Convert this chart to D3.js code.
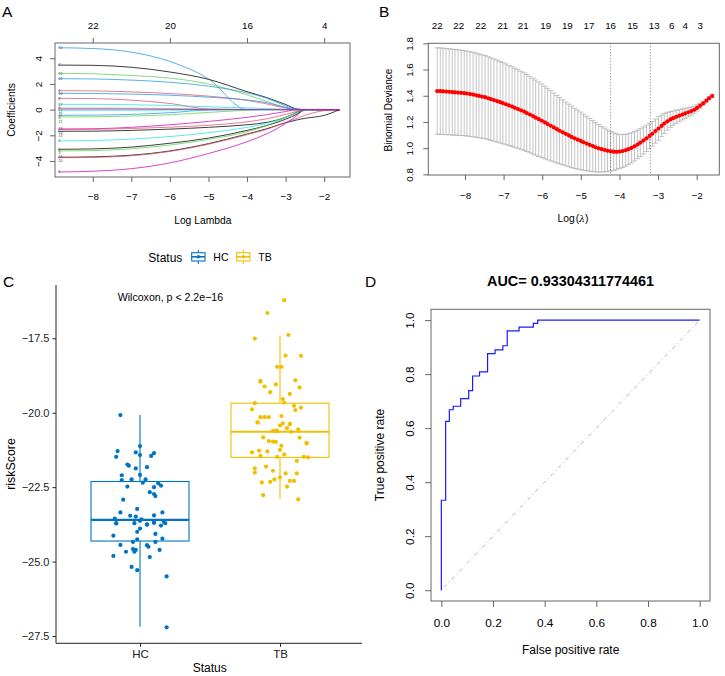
<!DOCTYPE html>
<html><head><meta charset="utf-8">
<script src="https://cdn.jsdelivr.net/npm/d3@7"></script>
<style>
body{margin:0;background:#fff;}
svg{display:block;font-family:"Liberation Sans",Arial,Helvetica,sans-serif;}
</style></head><body>
<svg id="chart" width="725" height="676"></svg>
<script>
// ---------------- DATA ----------------
// Panel A: LASSO coefficient paths
const lassoLogLambda = [-8.9, -8, -7, -6, -5, -4, -3.5, -3, -2.7, -2.5, -2, -1.6];
const coefVars = [10, 7, 15, 22, 2, 16, 8, 17, 9, 11, 4, 21, 18, 14, 13, 5, 1, 3, 19, 20, 6, 12];
const coefPaths = [
  [4.82, 4.76, 4.48, 3.75, 2.4, 0, 0, 0, 0, 0, 0, 0],
  [3.47, 3.45, 3.3, 2.93, 2.36, 1.4, 0.95, 0.4, 0.05, 0, 0, 0],
  [2.82, 2.79, 2.66, 2.45, 2.0, 1.15, 0.65, 0.15, 0, 0, 0, 0],
  [2.41, 2.39, 2.3, 2.13, 1.83, 1.3, 0.9, 0.3, 0.03, 0, 0, 0],
  [1.48, 1.46, 1.38, 1.25, 1.05, 0.72, 0.45, 0.12, 0, 0, 0, 0],
  [1.27, 1.26, 1.21, 1.12, 0.97, 0.75, 0.55, 0.18, 0.02, 0, 0, 0],
  [0.88, 0.86, 0.74, 0.48, 0.05, 0, 0, 0, 0, 0, 0, 0],
  [0.41, 0.41, 0.38, 0.32, 0.22, 0.13, 0.08, 0.02, 0, 0, 0, 0],
  [0.12, 0.12, 0.11, 0.09, 0.05, 0.02, 0.01, 0, 0, 0, 0, 0],
  [-0.05, -0.05, -0.05, -0.04, -0.02, 0, 0, 0, 0, 0, 0, 0],
  [-0.44, -0.43, -0.37, -0.24, -0.03, 0, 0, 0, 0, 0, 0, 0],
  [-0.57, -0.56, -0.5, -0.4, -0.22, -0.05, 0, 0, 0, 0, 0, 0],
  [-1.51, -1.49, -1.38, -1.18, -0.92, -0.6, -0.4, -0.15, 0, 0, 0, 0],
  [-1.56, -1.54, -1.47, -1.37, -1.22, -0.95, -0.72, -0.38, -0.12, 0, 0, 0],
  [-1.69, -1.68, -1.62, -1.52, -1.38, -1.18, -1.0, -0.6, -0.2, 0, 0, 0],
  [-2.44, -2.41, -2.3, -2.1, -1.8, -1.38, -1.08, -0.6, -0.28, -0.08, 0, 0],
  [-3.09, -3.06, -2.92, -2.62, -2.22, -1.62, -1.25, -0.75, -0.35, 0, 0, 0],
  [-3.22, -3.19, -3.05, -2.76, -2.32, -1.72, -1.25, -0.62, -0.22, 0, 0, 0],
  [-3.71, -3.68, -3.55, -3.22, -2.65, -1.9, -1.5, -1.02, -0.8, -0.68, -0.45, 0],
  [-3.75, -3.72, -3.6, -3.26, -2.7, -1.95, -1.55, -1.0, -0.68, -0.45, -0.08, 0],
  [-4.86, -4.8, -4.6, -4.15, -3.42, -2.5, -1.9, -1.08, -0.45, 0, 0, 0],
  [0.05, 0.05, 0.04, 0.02, 0, 0, 0, 0, 0, 0, 0, 0]
];
const aBottomTicks = [-8, -7, -6, -5, -4, -3, -2];
const aLeftTicks = [-4, -2, 0, 2, 4];
const aTopTicks = [-8, -6, -4, -2];
const aTopLabels = ["22", "20", "16", "4"];

// Panel B: cross-validation curve
const cvLogLambda = [-8.72,-8.64,-8.57,-8.49,-8.41,-8.33,-8.26,-8.18,-8.10,-8.02,
  -7.95,-7.87,-7.79,-7.71,-7.64,-7.56,-7.48,-7.40,-7.33,-7.25,
  -7.17,-7.09,-7.02,-6.94,-6.86,-6.78,-6.71,-6.63,-6.55,-6.47,
  -6.40,-6.32,-6.24,-6.17,-6.09,-6.01,-5.93,-5.86,-5.78,-5.70,
  -5.62,-5.55,-5.47,-5.39,-5.31,-5.24,-5.16,-5.08,-5.00,-4.93,
  -4.85,-4.77,-4.69,-4.62,-4.54,-4.46,-4.38,-4.31,-4.23,-4.15,
  -4.08,-4.00,-3.92,-3.84,-3.77,-3.69,-3.61,-3.53,-3.46,-3.38,
  -3.30,-3.22,-3.15,-3.07,-2.99,-2.91,-2.84,-2.76,-2.68,-2.61,
  -2.53,-2.45,-2.37,-2.30,-2.22,-2.14,-2.06,-1.99,-1.91,-1.83,
  -1.75,-1.68,-1.60];
const cvMean = [1.436,1.435,1.434,1.432,1.430,1.428,1.426,1.424,1.422,1.420,
  1.417,1.413,1.409,1.404,1.399,1.394,1.389,1.381,1.374,1.367,
  1.359,1.351,1.344,1.335,1.326,1.317,1.308,1.299,1.289,1.279,
  1.268,1.257,1.245,1.233,1.221,1.209,1.196,1.184,1.171,1.158,
  1.145,1.133,1.121,1.109,1.097,1.086,1.075,1.065,1.055,1.045,
  1.035,1.025,1.016,1.007,0.999,0.992,0.986,0.980,0.976,0.973,
  0.972,0.974,0.978,0.984,0.992,1.002,1.014,1.028,1.042,1.058,
  1.075,1.093,1.110,1.130,1.150,1.170,1.188,1.205,1.219,1.229,
  1.239,1.248,1.257,1.265,1.274,1.283,1.293,1.307,1.324,1.342,
  1.362,1.381,1.398];
const cvSE = [.330,.330,.329,.329,.328,.328,.327,.326,.326,.325,
  .324,.323,.322,.321,.320,.318,.317,.316,.315,.314,
  .313,.311,.310,.308,.306,.304,.302,.300,.298,.296,
  .294,.292,.289,.287,.284,.281,.277,.273,.268,.263,
  .258,.253,.248,.243,.239,.235,.230,.225,.220,.214,
  .208,.201,.194,.188,.181,.174,.167,.159,.150,.144,
  .137,.130,.126,.122,.118,.115,.112,.109,.106,.103,
  .100,.097,.094,.092,.090,.083,.076,.068,.060,.054,
  .050,.046,.042,.039,.035,.031,.027,.024,.020,.017,
  .014,.012,.010];
const lambdaMin = -4.23;
const lambda1se = -3.2;
const bTopPos = [-8.72, -8.16, -7.59, -7.02, -6.49, -5.91, -5.35, -4.79, -4.23, -3.66, -3.10, -2.65, -2.30, -1.91];
const bTopLabels = ["22","22","22","21","21","19","19","17","16","15","13","6","4","3"];
const bBottomTicks = [-8, -7, -6, -5, -4, -3, -2];
const bLeftTicks = [0.8, 1.0, 1.2, 1.4, 1.6, 1.8];

// Panel C: risk score by status
const groups = ["HC", "TB"];
const hcScore = [-20.08,-21.12,-21.29,-21.48,-21.33,-21.42,-21.36,-21.45,-21.74,-21.78,
  -21.87,-21.83,-22.10,-22.26,-22.24,-22.09,-22.24,-22.35,-22.48,-22.37,
  -22.45,-22.50,-22.67,-22.73,-22.80,-22.92,-23.23,-23.35,-23.35,-23.46,
  -23.45,-23.56,-23.71,-23.49,-23.71,-23.63,-23.58,-23.75,-23.69,-23.79,
  -23.66,-23.71,-24.00,-23.89,-24.13,-24.07,-24.25,-24.34,-24.23,-24.44,
  -24.45,-24.50,-24.34,-24.67,-24.58,-24.67,-24.61,-24.61,-24.81,-24.85,
  -25.18,-25.29,-25.50,-27.21,-23.72,-23.70,-23.76];
const hcJitter = [-0.14,0.00,-0.16,-0.17,-0.03,0.00,0.10,0.08,-0.09,-0.08,
  -0.03,0.05,-0.13,-0.13,-0.06,0.00,0.04,0.02,-0.09,0.13,
  0.15,0.10,0.07,0.10,0.11,-0.12,-0.02,0.16,-0.14,-0.07,
  0.10,-0.18,-0.17,-0.03,-0.04,0.00,0.01,0.05,0.10,0.15,
  0.17,0.18,-0.02,0.00,-0.19,0.11,-0.02,-0.05,0.16,-0.14,
  0.05,0.06,0.11,-0.10,-0.05,-0.04,-0.03,0.14,-0.19,0.07,
  -0.06,-0.02,0.19,0.19,-0.17,0.10,0.05];
const tbScore = [-16.22,-16.65,-17.39,-17.51,-18.08,-18.09,-18.46,-18.46,-18.93,-18.96,
  -18.91,-19.05,-19.12,-19.15,-19.31,-19.37,-19.54,-19.66,-19.68,-19.77,
  -19.83,-19.91,-19.89,-20.11,-20.15,-20.15,-20.15,-20.33,-20.37,-20.36,
  -20.43,-20.52,-20.56,-20.61,-20.60,-20.64,-20.83,-20.84,-20.95,-20.97,
  -20.98,-21.01,-21.11,-21.25,-21.33,-21.27,-21.30,-21.40,-21.48,-21.48,
  -21.50,-21.45,-21.62,-21.81,-21.87,-22.01,-21.95,-22.04,-22.04,-22.24,
  -22.17,-22.32,-22.34,-22.29,-22.29,-22.48,-22.77,-22.91,-20.32,-20.39,
  -20.62,-21.03];
const tbJitter = [0.03,-0.09,0.06,-0.18,0.04,0.15,-0.02,0.01,-0.14,-0.14,
  0.11,-0.03,-0.11,0.14,-0.07,0.07,0.02,0.03,-0.18,0.10,
  0.15,0.11,-0.20,0.01,-0.14,-0.11,-0.08,-0.16,0.07,0.02,
  0.00,0.05,0.13,-0.05,-0.03,0.08,-0.12,0.14,-0.08,-0.05,
  -0.03,0.19,0.01,0.00,-0.20,-0.15,-0.09,0.03,-0.02,0.17,
  0.20,-0.14,0.12,-0.10,-0.18,-0.18,-0.05,0.12,0.04,-0.04,
  0.00,-0.07,-0.13,0.07,0.10,0.05,-0.12,0.13,-0.16,0.07,
  -0.02,0.19];
const boxQ1 = [-24.31, -21.50];
const boxMedian = [-23.60, -20.64];
const boxQ3 = [-22.31, -19.68];
const boxLow = [-27.19, -22.91];
const boxHigh = [-20.08, -17.41];
const cTicks = [-17.5, -20.0, -22.5, -25.0, -27.5];

// Panel D: ROC curve corners
const rocFPR = [0, 0, 0.0167, 0.031, 0.046, 0.075, 0.106, 0.121, 0.148, 0.179, 0.208, 0.238, 0.255, 0.301, 0.356, 0.373, 1.0];
const rocTPR = [0, 0.333, 0.625, 0.668, 0.681, 0.709, 0.739, 0.793, 0.808, 0.876, 0.890, 0.905, 0.960, 0.974, 0.988, 1.0, 1.0];
const dTicks = [0, 0.2, 0.4, 0.6, 0.8, 1.0];
const aucText = "AUC= 0.93304311774461";

// ---------------- DRAWING ----------------
const svg = d3.select("#chart");
const FONT = '"Liberation Sans", Arial, Helvetica, sans-serif';
const rPalette = ["#000000", "#DF536B", "#61D04F", "#2297E6", "#28E2E5", "#CD0BBC"];
const jco = {HC: "#0073C2", TB: "#EFC000"};
const minus = s => String(s).replace("-", "\u2212");

function axisBottom(g, scale, vals, y0, len, baseY, fs, fmt, col) {
  const a = g.append("g").attr("transform", `translate(0,${y0})`)
    .call(d3.axisBottom(scale).tickValues(vals).tickSize(len).tickFormat(fmt));
  a.select(".domain").remove();
  a.selectAll("line").attr("stroke", col || "#333");
  a.selectAll("text").attr("y", baseY - y0).attr("dy", 0).attr("font-size", fs)
    .attr("font-family", FONT).attr("fill", "#000");
  return a;
}
function axisTop(g, scale, vals, labels, y0, len, baseY, fs, col) {
  const a = g.append("g").attr("transform", `translate(0,${y0})`)
    .call(d3.axisTop(scale).tickValues(vals).tickSize(len).tickFormat((d, i) => labels[i]));
  a.select(".domain").remove();
  a.selectAll("line").attr("stroke", col || "#333");
  a.selectAll("text").attr("y", baseY - y0).attr("dy", 0).attr("font-size", fs)
    .attr("font-family", FONT).attr("fill", "#000");
  return a;
}
function axisLeftRot(g, scale, vals, x0, len, baseX, fs, fmt, col) {
  const a = g.append("g").attr("transform", `translate(${x0},0)`)
    .call(d3.axisLeft(scale).tickValues(vals).tickSize(len).tickFormat(fmt));
  a.select(".domain").remove();
  a.selectAll("line").attr("stroke", col || "#333");
  a.selectAll("text").attr("x", 0).attr("dy", 0).attr("text-anchor", "middle")
    .attr("transform", `translate(${baseX - x0},0) rotate(-90)`)
    .attr("font-size", fs).attr("font-family", FONT).attr("fill", "#000");
  return a;
}
function rotLabel(g, txt, baseX, cy, fs) {
  g.append("text").attr("transform", `translate(${baseX},${cy}) rotate(-90)`)
    .attr("text-anchor", "middle").attr("font-size", fs).attr("font-family", FONT).text(txt);
}
function hLabel(g, txt, cx, baseY, fs, weight) {
  return g.append("text").attr("x", cx).attr("y", baseY).attr("text-anchor", "middle")
    .attr("font-size", fs).attr("font-family", FONT).attr("font-weight", weight || "normal").text(txt);
}
function panelLetter(txt, x, y) {
  svg.append("text").attr("x", x).attr("y", y).attr("font-size", 15.5)
    .attr("font-family", FONT).text(txt);
}

// ===== Panel A =====
{
  const g = svg.append("g");
  const x = d3.scaleLinear().domain([-8.98, -1.33]).range([55, 350]);
  const y = d3.scaleLinear().domain([-5.25, 5.19]).range([177, 43]);
  const line = d3.line().curve(d3.curveMonotoneX);
  coefPaths.forEach((vals, k) => {
    g.append("path")
      .attr("d", line(vals.map((v, i) => [x(lassoLogLambda[i]), y(v)])))
      .attr("fill", "none").attr("stroke", rPalette[(coefVars[k] - 1) % 6])
      .attr("stroke-width", 0.9).attr("stroke-opacity", 0.85);
  });
  // variable labels at the left end, nudged apart so they do not collide
  const lab = coefPaths.map((vals, k) => ({k, y: y(vals[0])})).sort((a, b) => a.y - b.y);
  const gap = 3.3;
  for (let i = 1; i < lab.length; i++) if (lab[i].y - lab[i - 1].y < gap) lab[i].y = lab[i - 1].y + gap;
  for (let i = lab.length - 2; i >= 0; i--) if (lab[i + 1].y - lab[i].y < gap) lab[i].y = lab[i + 1].y - gap;
  lab.forEach(l => {
    g.append("text").attr("x", x(lassoLogLambda[0]) + 0.5).attr("y", l.y)
      .attr("dy", "0.35em").attr("font-size", 3.6).attr("fill", "#444")
      .attr("font-family", FONT).text(coefVars[l.k]);
  });
  g.append("rect").attr("x", 55).attr("y", 43).attr("width", 295).attr("height", 134)
    .attr("fill", "none").attr("stroke", "#666").attr("stroke-width", 1);
  axisBottom(g, x, aBottomTicks, 177, 5, 200.3, 9.8, d => minus(d), "#666");
  axisTop(g, x, aTopTicks, aTopLabels, 43, 5, 28.6, 9.8, "#666");
  axisLeftRot(g, y, aLeftTicks, 55, 5, 41.8, 9.8, d => minus(d), "#666");
  rotLabel(g, "Coefficients", 15.3, 110, 10.3);
  hLabel(g, "Log Lambda", 202.8, 223.8, 10.3);
  panelLetter("A", 2, 17.3);
}

// ===== Panel B =====
{
  const g = svg.append("g");
  const x = d3.scaleLinear().domain([-8.95, -1.415]).range([428.3, 719.3]);
  const y = d3.scaleLinear().domain([0.795, 1.805]).range([175, 42.7]);
  const bw = 2.75;
  cvLogLambda.forEach((l, i) => {
    const up = cvMean[i] + cvSE[i], lo = cvMean[i] - cvSE[i];
    const xx = x(l);
    g.append("line").attr("x1", xx).attr("x2", xx).attr("y1", y(up)).attr("y2", y(lo))
      .attr("stroke", "#b4b4b4").attr("stroke-width", 0.8);
    g.append("line").attr("x1", xx - bw).attr("x2", xx + bw).attr("y1", y(up)).attr("y2", y(up))
      .attr("stroke", "#b4b4b4").attr("stroke-width", 0.8);
    g.append("line").attr("x1", xx - bw).attr("x2", xx + bw).attr("y1", y(lo)).attr("y2", y(lo))
      .attr("stroke", "#b4b4b4").attr("stroke-width", 0.8);
  });
  [lambdaMin, lambda1se].forEach(v => {
    g.append("line").attr("x1", x(v)).attr("x2", x(v)).attr("y1", 43.3).attr("y2", 175)
      .attr("stroke", "#555").attr("stroke-width", 0.8).attr("stroke-dasharray", "1,2");
  });
  cvLogLambda.forEach((l, i) => {
    g.append("circle").attr("cx", x(l)).attr("cy", y(cvMean[i])).attr("r", 2.1).attr("fill", "#ff0000");
  });
  g.append("rect").attr("x", 428.3).attr("y", 43.3).attr("width", 291).attr("height", 131.7)
    .attr("fill", "none").attr("stroke", "#666").attr("stroke-width", 1);
  axisBottom(g, x, bBottomTicks, 175, 5, 198.5, 9.8, d => minus(d), "#666");
  axisLeftRot(g, y, bLeftTicks, 428.3, 5, 412.8, 9.8, d => d3.format(".1f")(d), "#666");
  bTopPos.forEach((p, i) => {
    hLabel(g, bTopLabels[i], x(p), 28.6, 9.8);
  });
  rotLabel(g, "Binomial Deviance", 391.9, 110, 10);
  const t = g.append("text").attr("x", 573).attr("y", 221.6).attr("text-anchor", "middle")
    .attr("font-size", 10.3).attr("font-family", FONT);
  t.append("tspan").text("Log");
  t.append("tspan").attr("dx", 1).text("(");
  t.append("tspan").attr("font-style", "italic").attr("font-family", '"DejaVu Serif", serif').attr("font-size", 9.5).text("λ");
  t.append("tspan").text(")");
  panelLetter("B", 379, 16.7);
}

// ===== Panel C =====
{
  const g = svg.append("g");
  const y = d3.scaleLinear().domain([-27.745, -15.71]).range([643.3, 285]);
  const x = d3.scalePoint().domain(groups).range([140, 280]);
  const step = x.step();
  const halfW = 0.35 * step;
  // boxes
  groups.forEach((grp, i) => {
    const cx = x(grp), col = jco[grp];
    g.append("line").attr("x1", cx).attr("x2", cx).attr("y1", y(boxHigh[i])).attr("y2", y(boxQ3[i]))
      .attr("stroke", col).attr("stroke-width", 1.1);
    g.append("line").attr("x1", cx).attr("x2", cx).attr("y1", y(boxQ1[i])).attr("y2", y(boxLow[i]))
      .attr("stroke", col).attr("stroke-width", 1.1);
    g.append("rect").attr("x", cx - halfW).attr("y", y(boxQ3[i])).attr("width", 2 * halfW)
      .attr("height", y(boxQ1[i]) - y(boxQ3[i])).attr("fill", "#fff").attr("stroke", col).attr("stroke-width", 1.1);
    g.append("line").attr("x1", cx - halfW).attr("x2", cx + halfW).attr("y1", y(boxMedian[i])).attr("y2", y(boxMedian[i]))
      .attr("stroke", col).attr("stroke-width", 2.2);
  });
  // points
  hcScore.forEach((v, i) => {
    g.append("circle").attr("cx", x("HC") + hcJitter[i] * step).attr("cy", y(v)).attr("r", 2.1).attr("fill", jco.HC);
  });
  tbScore.forEach((v, i) => {
    g.append("circle").attr("cx", x("TB") + tbJitter[i] * step).attr("cy", y(v)).attr("r", 2.1).attr("fill", jco.TB);
  });
  // axes
  g.append("line").attr("x1", 56).attr("x2", 56).attr("y1", 285).attr("y2", 643.3).attr("stroke", "#222").attr("stroke-width", 1);
  g.append("line").attr("x1", 56).attr("x2", 362).attr("y1", 643.3).attr("y2", 643.3).attr("stroke", "#222").attr("stroke-width", 1);
  const ya = g.append("g").attr("transform", "translate(56,0)")
    .call(d3.axisLeft(y).tickValues(cTicks).tickSize(3.5).tickPadding(3).tickFormat(d => minus(d3.format(".1f")(d))));
  ya.select(".domain").remove();
  ya.selectAll("line").attr("stroke", "#222");
  ya.selectAll("text").attr("font-size", 11).attr("font-family", FONT).attr("fill", "#222");
  const xa = g.append("g").attr("transform", "translate(0,643.3)")
    .call(d3.axisBottom(x).tickSize(3.5).tickPadding(3));
  xa.select(".domain").remove();
  xa.selectAll("line").attr("stroke", "#222");
  xa.selectAll("text").attr("font-size", 11.5).attr("font-family", FONT).attr("fill", "#222");
  rotLabel(g, "riskScore", 14.5, 464, 12.4);
  hLabel(g, "Status", 209.7, 672.3, 12);
  g.append("text").attr("x", 117.7).attr("y", 300.8).attr("font-size", 10.6).attr("font-family", FONT)
    .text("Wilcoxon, p < 2.2e\u221216");
  // legend
  g.append("text").attr("x", 148.3).attr("y", 261.5).attr("font-size", 12).attr("font-family", FONT).text("Status");
  const keyX = {HC: 191.7, TB: 236.7};
  groups.forEach(grp => {
    const kx = keyX[grp], col = jco[grp], kw = 13.3, cx = kx + kw / 2;
    g.append("line").attr("x1", cx).attr("x2", cx).attr("y1", 250).attr("y2", 264).attr("stroke", col).attr("stroke-width", 1.1);
    g.append("rect").attr("x", kx).attr("y", 252.7).attr("width", kw).attr("height", 8.3)
      .attr("fill", "#fff").attr("stroke", col).attr("stroke-width", 1.1);
    g.append("line").attr("x1", kx).attr("x2", kx + kw).attr("y1", 256.8).attr("y2", 256.8).attr("stroke", col).attr("stroke-width", 1.6);
    g.append("circle").attr("cx", cx).attr("cy", 256.8).attr("r", 1.8).attr("fill", col);
    g.append("text").attr("x", kx + kw + 8.3).attr("y", 260.8).attr("font-size", 10.5).attr("font-family", FONT).text(grp);
  });
  panelLetter("C", 3, 287.3);
}

// ===== Panel D =====
{
  const g = svg.append("g");
  const x = d3.scaleLinear().domain([-0.04, 1.04]).range([431, 710]);
  const y = d3.scaleLinear().domain([-0.04, 1.04]).range([601, 309.3]);
  g.append("line").attr("x1", x(0)).attr("y1", y(0)).attr("x2", x(1)).attr("y2", y(1))
    .attr("stroke", "#aaa").attr("stroke-width", 0.9).attr("stroke-dasharray", "1,3,4,3");
  const line = d3.line().curve(d3.curveStepAfter).x(d => x(d[0])).y(d => y(d[1]));
  g.append("path").attr("d", line(rocFPR.map((f, i) => [f, rocTPR[i]])))
    .attr("fill", "none").attr("stroke", "#1a1aff").attr("stroke-width", 1.2);
  g.append("rect").attr("x", 431).attr("y", 309.3).attr("width", 279).attr("height", 291.7)
    .attr("fill", "none").attr("stroke", "#666").attr("stroke-width", 1);
  axisBottom(g, x, dTicks, 601, 6, 626.6, 11.8, d => d3.format(".1f")(d), "#666");
  axisLeftRot(g, y, dTicks, 431, 6, 413.5, 11.8, d => d3.format(".1f")(d), "#666");
  rotLabel(g, "True positive rate", 384.4, 455, 12);
  hLabel(g, "False positive rate", 570.7, 654.3, 12);
  hLabel(g, aucText, 570.5, 286.2, 14.4, "bold");
  panelLetter("D", 365, 286.7);
}
</script></body></html>
